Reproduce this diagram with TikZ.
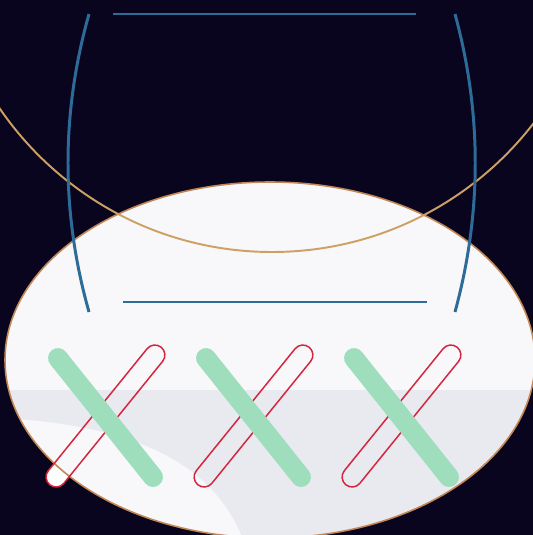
\documentclass[tikz,border=0pt]{standalone}
\usepackage{tikz}
\usetikzlibrary{calc,shapes.misc}

\definecolor{nightbg}{RGB}{10,5,30}
\definecolor{tanline}{RGB}{205,160,100}
\definecolor{steelblue}{RGB}{45,108,152}
\definecolor{panelfill}{RGB}{248,248,250}
\definecolor{panelrim}{RGB}{195,135,85}
\definecolor{panelgrey}{RGB}{233,234,239}
\definecolor{mint}{RGB}{158,222,188}
\definecolor{pillred}{RGB}{212,38,62}

\tikzset{
  bluearc/.style={steelblue,line width=1.7pt},
  tanring/.style={tanline,line width=1.1pt},
  mintbar/.style={mint,line width=11.3pt,line cap=round},
  pillshape/.style={rounded rectangle,inner sep=0pt,minimum width=3.54cm,minimum height=0.40cm,rotate=51},
  redpill/.style={pillshape,draw=pillred,line width=0.85pt}
}

\begin{document}
\begin{tikzpicture}[x=0.02cm,y=-0.02cm]
  \useasboundingbox (0,0) rectangle (533,535);
  \fill[nightbg] (0,0) rectangle (533,535);
  \begin{scope}
    \clip (0,0) rectangle (533,535);
    % white under the pills (only seen off the panel)
    \foreach \dx [count=\i] in {0,148,296}
      \node[pillshape,fill=white] (pillbg\i) at (105.5+\dx,416) {};
    % white panel with the greyish band
    \fill[panelfill] (270,360) ellipse [x radius=265,y radius=178];
    \begin{scope}
      \clip (270,360) ellipse [x radius=265,y radius=178];
      \fill[panelgrey] (0,390) rectangle (540,545);
      \fill[panelfill] (0,418) .. controls (130,425) and (215,460) .. (245,545) -- (0,545) -- cycle;
    \end{scope}
    \draw[panelrim,line width=0.9pt] (270,360) ellipse [x radius=265,y radius=178];
    % big ring
    \draw[tanring] (272,-78) circle [radius=330];
    % frame
    \coordinate (tl) at (113,14);  \coordinate (tr) at (416,14);
    \coordinate (bl) at (123,302); \coordinate (br) at (427,302);
    \draw[bluearc] (tl) -- (tr);
    \draw[bluearc] (bl) -- (br);
    \draw[bluearc] (89,14) .. controls (61,113) and (61,213) .. (89,312);
    \draw[bluearc] (455,14) .. controls (482,113) and (482,213) .. (455,312);
    % crosses
    \foreach \dx [count=\i] in {0,148,296}{
      \node[redpill] (pill\i) at (105.5+\dx,416) {};
      \coordinate (bartop\i) at (58+\dx,358);
      \coordinate (barbot\i) at (153+\dx,477);
      \draw[mintbar] (bartop\i) -- (barbot\i);
    }
  \end{scope}
\end{tikzpicture}
\end{document}
